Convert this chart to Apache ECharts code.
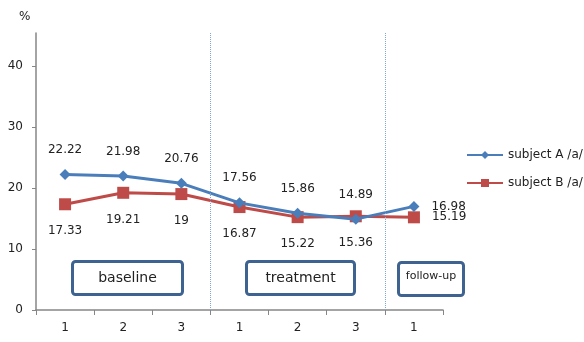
<!DOCTYPE html>
<html>
<head>
<meta charset="utf-8">
<script src="https://cdn.jsdelivr.net/npm/echarts@6/dist/echarts.min.js"></script>
<style>
  html, body { margin: 0; padding: 0; background: #fff; }
  #chart { width: 584px; height: 342px; }
</style>
</head>
<body>
<div id="chart"></div>
<script>
// Session labels along the x axis (three phases: baseline, treatment, follow-up)
const categories = ['1', '2', '3', '1', '2', '3', '1'];
const subjectA = [22.22, 21.98, 20.76, 17.56, 15.86, 14.89, 16.98];
const subjectB = [17.33, 19.21, 19, 16.87, 15.22, 15.36, 15.19];
const yTicks = [0, 10, 20, 30, 40];
const seriesNames = ['subject A /a/', 'subject B /a/'];
const phaseNames = ['baseline', 'treatment', 'follow-up'];
// Session counts where a new phase starts (boundaries between categories)
const phaseStarts = [3, 6];

const FONT = 'DejaVu Sans';
const chart = echarts.init(document.getElementById('chart'), null, { renderer: 'canvas' });

function phaseBox(left, top, width, height, text, fontSize, dy) {
  return {
    type: 'group',
    left: left, top: top,
    children: [
      {
        type: 'rect',
        shape: { x: 0, y: 0, width: width, height: height, r: 3 },
        style: { fill: '#fff', stroke: '#3e6391', lineWidth: 3 }
      },
      {
        type: 'text',
        x: width / 2, y: height / 2 + dy,
        style: {
          text: text, fill: '#222', font: fontSize + 'px "' + FONT + '"',
          align: 'center', verticalAlign: 'middle'
        }
      }
    ]
  };
}

function lastRight(values) {
  return values.map(function (v, i) {
    return i === values.length - 1
      ? { value: v, label: { position: 'right', distance: 12 } }
      : v;
  });
}

const option = {
  animation: false,
  backgroundColor: '#fff',
  textStyle: { fontFamily: FONT },
  title: {
    text: '%', left: 14, top: 6,
    textStyle: { fontFamily: FONT, fontSize: 12, fontWeight: 'normal', color: '#222' }
  },
  grid: { left: 36, right: 141, top: 33, bottom: 32, containLabel: false },
  legend: {
    orient: 'vertical',
    left: 466, top: 149,
    padding: 0,
    itemWidth: 36, itemHeight: 10, itemGap: 16,
    textStyle: { fontFamily: FONT, fontSize: 12, color: '#222' },
    data: seriesNames
  },
  xAxis: [
    {
      type: 'category',
      data: categories,
      boundaryGap: true,
      axisLine: { lineStyle: { color: '#868686', width: 1.5 } },
      axisTick: { show: true, length: 5, lineStyle: { color: '#868686' } },
      axisLabel: { color: '#222', fontSize: 12, fontFamily: FONT, margin: 12 },
      splitLine: { show: false }
    },
    {
      // hidden linear axis spanning the same band, used to place phase separators
      type: 'value',
      min: 0, max: categories.length,
      show: false,
      position: 'bottom'
    }
  ],
  yAxis: {
    type: 'value',
    min: 0, max: 45.4,
    interval: 10,
    axisLine: { show: true, lineStyle: { color: '#868686', width: 1.5 } },
    axisTick: { show: true, length: 4, customValues: yTicks, lineStyle: { color: '#868686' } },
    axisLabel: { color: '#222', fontSize: 12, fontFamily: FONT, margin: 13, customValues: yTicks },
    splitLine: { show: false }
  },
  series: [
    {
      name: seriesNames[0],
      type: 'line',
      data: lastRight(subjectA),
      color: '#4a7ebb',
      lineStyle: { width: 3, color: '#4a7ebb' },
      symbol: 'diamond', symbolSize: 11,
      itemStyle: { color: '#4a7ebb' },
      label: {
        show: true, position: 'top', distance: 13,
        color: '#222', fontSize: 12, fontFamily: FONT
      },
      z: 3
    },
    {
      name: seriesNames[1],
      type: 'line',
      data: lastRight(subjectB),
      color: '#be4b48',
      lineStyle: { width: 3, color: '#be4b48' },
      symbol: 'rect', symbolSize: 12,
      itemStyle: { color: '#be4b48' },
      label: {
        show: true, position: 'bottom', distance: 15,
        color: '#222', fontSize: 12, fontFamily: FONT
      },
      z: 2
    },
    {
      type: 'line',
      xAxisIndex: 1,
      data: [],
      silent: true,
      z: 1,
      markLine: {
        silent: true,
        symbol: 'none',
        label: { show: false },
        lineStyle: { color: '#7fa6d6', type: [1, 1], width: 1 },
        data: phaseStarts.map(function (x) { return { xAxis: x }; })
      }
    }
  ],
  graphic: [
    phaseBox(71, 260, 110, 33, phaseNames[0], 14, 0),
    phaseBox(245, 260, 108, 33, phaseNames[1], 14, 0),
    phaseBox(397, 261, 65, 33, phaseNames[2], 11, -3)
  ]
};

chart.setOption(option);
</script>
</body>
</html>
